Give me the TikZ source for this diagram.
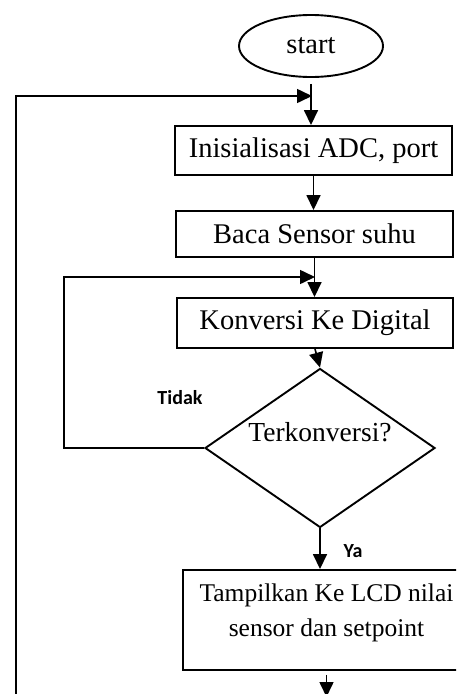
\documentclass[tikz,border=0pt]{standalone}
\usepackage{fontspec}
\setmainfont{Liberation Serif}
\newfontfamily\labelfont{Carlito}
\usetikzlibrary{shapes.geometric,arrows.meta}
\begin{document}
\begin{tikzpicture}[x=1pt,y=-1pt,
  box/.style={draw,line width=1.9pt,rectangle,inner sep=0pt,font=\fontsize{28.5}{32}\selectfont},
  conn/.style={line width=1.6pt,-{Triangle[length=15pt,width=14pt]}},
  lbl/.style={font=\labelfont\bfseries\fontsize{20}{23}\selectfont}]
\useasboundingbox (0,0) rectangle (456,694);
\clip (0,0) rectangle (456,694);
% nodes
\node[draw,ellipse,line width=1.9pt,minimum width=144pt,minimum height=62pt,inner sep=0pt,
      font=\fontsize{28.5}{32}\selectfont] (start) at (311,46) {start};
\node[box,minimum width=277pt,minimum height=49pt] (init) at (313.5,150.5) {Inisialisasi ADC, port};
\node[box,minimum width=277pt,minimum height=46pt] (baca) at (314.5,234) {Baca Sensor suhu};
\node[box,minimum width=276pt,minimum height=50pt] (konv) at (315,323) {Konversi Ke Digital};
\node[draw,diamond,line width=1.9pt,minimum width=230pt,minimum height=159pt,inner sep=0pt,
      label={[yshift=16pt,font=\fontsize{27.5}{30}\selectfont]center:Terkonversi?}] (dec) at (320,448) {};
\node[draw,rectangle,line width=1.9pt,minimum width=287pt,minimum height=100pt,inner sep=0pt,
      label={[yshift=7.5pt,align=center,font=\fontsize{25.5}{35}\selectfont]center:{Tampilkan Ke LCD nilai\\sensor dan setpoint}}] (disp) at (326.5,620) {};
\node[lbl] (tidak) at (180,398) {Tidak};
\node[lbl] (ya) at (353,551) {Ya};
% coordinates
\coordinate (j1) at (312,96);
\coordinate (j2) at (315,277);
\coordinate (obot) at (16,700);
\coordinate (otop) at (16,96);
\coordinate (ibot) at (64,448);
\coordinate (itop) at (64,277);
\coordinate (dend) at (326.5,697);
% connectors
\draw[conn,shorten <=6pt] (start.south) -- (start.south |- init.north);
\draw[conn] (init.south) -- (init.south |- baca.north);
\draw[conn] (baca.south) -- (baca.south |- konv.north);
\draw[conn] (konv.south) -- (dec.north);
\draw[conn] (dec.south) -- (dec.south |- disp.north);
\draw[conn,shorten <=4pt] (disp.south) -- (dend);
\draw[conn] (obot) -- (otop) -- (j1);
\draw[conn] (dec.west) -- (ibot) -- (itop) -- (j2);
\end{tikzpicture}
\end{document}
